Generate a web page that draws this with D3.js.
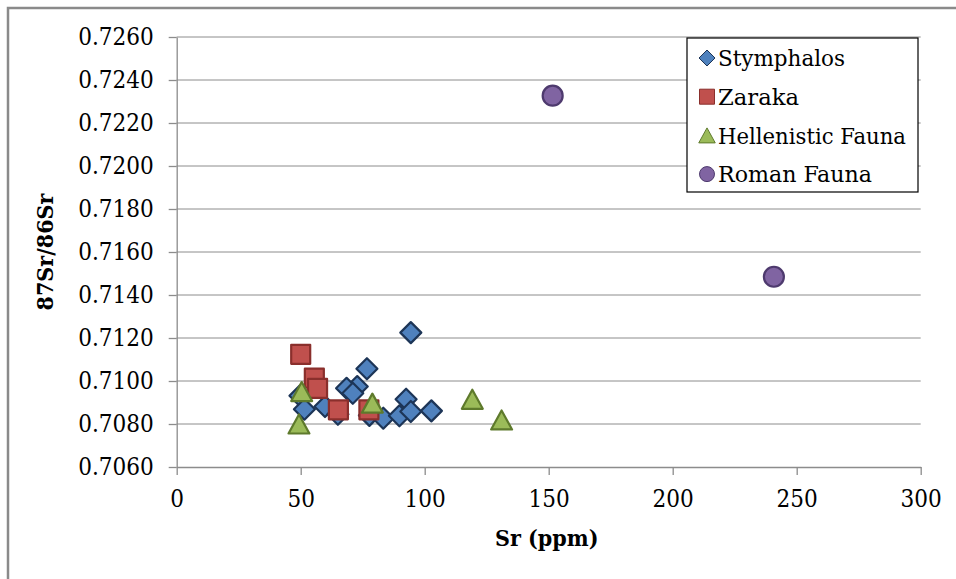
<!DOCTYPE html>
<meta charset='utf-8'>
<head>
    <title>Sr isotopes</title>
    <script src='https://d3js.org/d3.v7.min.js'></script>
</head>

<style>
    body { margin: 0; background: #fff; }
    .grid line { stroke: #8c8c8c; stroke-width: 1px; }
    .axis path, .axis line { stroke: #8c8c8c; stroke-width: 1.3px; }
</style>

<svg></svg>

<script>

    // data: Sr (ppm) and 87Sr/86Sr
    var stymphalosSr    = [94.4, 76.7, 72.8, 68.5, 71.0, 49.7, 51.5, 59.8, 65.0, 77.7, 83.3, 89.8, 92.5, 94.4, 102.7];
    var stymphalosRatio = [0.71225, 0.71057, 0.70974, 0.70966, 0.70943, 0.70931, 0.70869, 0.70881, 0.70845, 0.70840, 0.70827, 0.70838, 0.70915, 0.70858, 0.70861];
    var zarakaSr        = [50.0, 55.5, 56.8, 65.2, 77.5];
    var zarakaRatio     = [0.71124, 0.71013, 0.70966, 0.70866, 0.70866];
    var hellenisticSr    = [50.4, 49.3, 78.9, 119.2, 131.0];
    var hellenisticRatio = [0.70951, 0.70800, 0.70897, 0.70915, 0.70819];
    var romanSr    = [151.6, 240.8];
    var romanRatio = [0.72327, 0.71485];

    var seriesNames = ['Stymphalos', 'Zaraka', 'Hellenistic Fauna', 'Roman Fauna'];
    var xTicks = [0, 50, 100, 150, 200, 250, 300];
    var yTicks = [0.7060, 0.7080, 0.7100, 0.7120, 0.7140, 0.7160, 0.7180, 0.7200, 0.7220, 0.7240, 0.7260];

    var vWidth = 956;
    var vHeight = 579;
    var margin = {left: 176.7, top: 37, right: 956 - 920.7, bottom: 579 - 467};
    var serif = "'DejaVu Serif Condensed', 'DejaVu Serif', serif";

    var svg = d3.select('svg').attr('width', vWidth).attr('height', vHeight)
        .style('font-family', serif);

    // outer chart frame
    svg.append('path')
        .attr('d', 'M8,' + vHeight + 'V8H' + vWidth)
        .attr('fill', 'none').attr('stroke', '#8a8a8a').attr('stroke-width', 2.5);

    var x = d3.scaleLinear().domain([0, 300]).range([margin.left, vWidth - margin.right]);
    var y = d3.scaleLinear().domain([0.7060, 0.7260]).range([vHeight - margin.bottom, margin.top]);

    // horizontal gridlines
    svg.append('g').attr('class', 'grid')
        .selectAll('line').data(yTicks.slice(1)).enter().append('line')
        .attr('x1', x(0)).attr('x2', x(300))
        .attr('y1', function (d) { return y(d); })
        .attr('y2', function (d) { return y(d); });

    svg.append('g').attr('class', 'axis')
        .attr('transform', 'translate(0,' + y(0.7060) + ')')
        .call(d3.axisBottom(x).tickValues(xTicks).tickSize(8).tickSizeOuter(0).tickPadding(15));
    svg.append('g').attr('class', 'axis')
        .attr('transform', 'translate(' + x(0) + ',0)')
        .call(d3.axisLeft(y).tickValues(yTicks).tickFormat(d3.format('.4f')).tickSize(8).tickSizeOuter(0).tickPadding(15));
    svg.selectAll('.axis')
        .attr('font-family', null).attr('font-size', 24);
    svg.selectAll('.axis text').attr('fill', '#000');

    svg.append('text')
        .attr('x', (x(0) + x(300)) / 2 - 2).attr('y', 546)
        .attr('font-size', 23).attr('font-weight', 'bold')
        .attr('text-anchor', 'middle').text('Sr (ppm)');
    svg.append('text')
        .attr('transform', 'translate(53,' + (y(0.7060) + y(0.7260)) / 2 + ') rotate(-90)')
        .attr('font-size', 23).attr('font-weight', 'bold')
        .attr('text-anchor', 'middle').text('87Sr/86Sr');

    // marker shapes, s = half size
    function diamond(s) { return 'M0,' + (-s) + 'L' + s + ',0L0,' + s + 'L' + (-s) + ',0Z'; }
    function square(s) { return 'M' + (-s) + ',' + (-s) + 'H' + s + 'V' + s + 'H' + (-s) + 'Z'; }
    function triangle(s) { return 'M0,' + (-s) + 'L' + (s * 1.1) + ',' + s + 'H' + (-s * 1.1) + 'Z'; }
    function circle(s) { return 'M' + (-s) + ',0A' + s + ',' + s + ' 0 1,0 ' + s + ',0A' + s + ',' + s + ' 0 1,0 ' + (-s) + ',0Z'; }

    var series = [
        {name: seriesNames[0], xs: stymphalosSr, ys: stymphalosRatio, shape: diamond, size: 10.5, fill: '#4f81bd', stroke: '#1d3557'},
        {name: seriesNames[1], xs: zarakaSr, ys: zarakaRatio, shape: square, size: 9.5, fill: '#c0504d', stroke: '#8a2f2c'},
        {name: seriesNames[2], xs: hellenisticSr, ys: hellenisticRatio, shape: triangle, size: 9.5, fill: '#9bbb59', stroke: '#5e7a2c'},
        {name: seriesNames[3], xs: romanSr, ys: romanRatio, shape: circle, size: 10, fill: '#8064a2', stroke: '#4e3a6e'}
    ];

    var marks = svg.append('g');
    series.forEach(function (s) {
        var pts = s.xs.map(function (v, i) { return [v, s.ys[i]]; });
        marks.append('g').selectAll('path').data(pts).enter().append('path')
            .attr('transform', function (d) { return 'translate(' + x(d[0]) + ',' + y(d[1]) + ')'; })
            .attr('d', s.shape(s.size))
            .attr('fill', s.fill).attr('stroke', s.stroke).attr('stroke-width', 2.2)
            .attr('stroke-linejoin', 'round');
    });

    // legend
    var legend = svg.append('g');
    legend.append('rect')
        .attr('x', 687).attr('y', 38).attr('width', 231).attr('height', 154)
        .attr('fill', '#fff').attr('stroke', '#000').attr('stroke-width', 1.2);
    var items = legend.selectAll('g').data(series).enter().append('g')
        .attr('transform', function (d, i) { return 'translate(707,' + (58 + i * 38.7) + ')'; });
    items.append('path')
        .attr('d', function (d) { return d.shape(d.shape === diamond ? 8 : 7.5); })
        .attr('fill', function (d) { return d.fill; })
        .attr('stroke', function (d) { return d.stroke; }).attr('stroke-width', 1);
    items.append('text')
        .attr('x', 11).attr('dy', '0.36em').attr('font-size', 23)
        .attr('textLength', function (d, i) { return [127, 81, 188, 154][i]; })
        .attr('lengthAdjust', 'spacingAndGlyphs')
        .text(function (d) { return d.name; });
</script>
